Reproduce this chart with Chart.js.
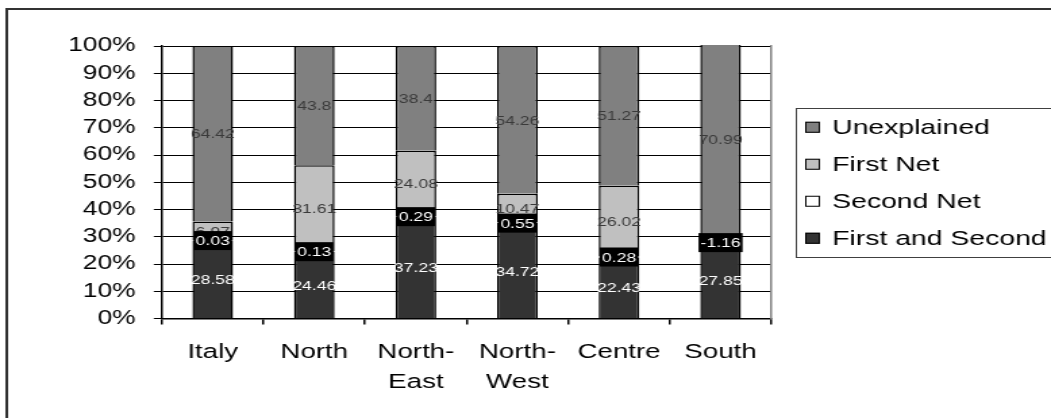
<!DOCTYPE html>
<html>
<head>
<meta charset="utf-8">
<script src="https://cdn.jsdelivr.net/npm/chart.js@4/dist/chart.umd.min.js"></script>
<style>
  html, body { margin: 0; padding: 0; background: #fff; }
  #chart { display: block; }
</style>
</head>
<body>
<!-- the original picture is stretched sideways, so the canvas is too -->
<canvas id="chart" width="778" height="418" style="width:1051px;height:418px"></canvas>
<script>
const regions = ['Italy', 'North', ['North-', 'East'], ['North-', 'West'], 'Centre', 'South'];
const firstAndSecond = [28.58, 24.46, 37.23, 34.72, 22.43, 27.85];
const secondNet = [0.03, 0.13, 0.29, 0.55, 0.28, -1.16];
const firstNet = [6.97, 31.61, 24.08, 10.47, 26.02, 2.32];
const unexplained = [64.42, 43.8, 38.4, 54.26, 51.27, 70.99];

const FONT = '"Liberation Sans", Arial, sans-serif';
Chart.defaults.font.family = FONT;
Chart.defaults.color = '#000';

// outer frame, and a boxed legend to the right of the plot
// (the built-in legend clips its text to the narrow box the layout gives it)
const framePlugin = {
  id: 'frame',
  beforeDraw(chart) {
    const ctx = chart.ctx;
    ctx.save();
    ctx.strokeStyle = '#333';
    ctx.lineWidth = 2;
    ctx.strokeRect(5, 9, chart.width + 20, chart.height + 20);
    ctx.restore();
  },
  afterDraw(chart) {
    const ctx = chart.ctx;
    const area = chart.chartArea;
    const items = chart.data.datasets.slice().reverse();
    const rowGap = 37;
    const midY = (area.top + area.bottom) / 2;
    const firstY = midY - rowGap * (items.length - 1) / 2;
    const x0 = area.right + 25;

    ctx.save();
    ctx.strokeStyle = '#404040';
    ctx.lineWidth = 1;
    const top = Math.round(firstY - 18.5) + 0.5;
    const bottom = Math.round(firstY + rowGap * (items.length - 1) + 19.5) + 0.5;
    ctx.strokeRect(Math.round(x0 - 7) + 0.5, top, chart.width, bottom - top);

    ctx.font = '21px ' + FONT;
    ctx.textBaseline = 'middle';
    ctx.textAlign = 'left';
    items.forEach((ds, k) => {
      const y = firstY + k * rowGap;
      ctx.fillStyle = ds.backgroundColor;
      ctx.fillRect(x0, y - 5, 11, 11);
      ctx.strokeStyle = '#000';
      ctx.strokeRect(x0 + 0.5, y - 4.5, 10, 10);
      ctx.fillStyle = '#000';
      ctx.fillText(ds.label, x0 + 20, y + 1);
    });
    ctx.restore();
  }
};

// value labels in the middle of each segment, Second Net drawn last on black
const labelPlugin = {
  id: 'segmentLabels',
  afterDatasetsDraw(chart) {
    const ctx = chart.ctx;
    ctx.save();
    ctx.font = '13px ' + FONT;
    ctx.textAlign = 'center';
    ctx.textBaseline = 'middle';
    [0, 2, 3, 1].forEach((di) => {
      const ds = chart.data.datasets[di];
      const meta = chart.getDatasetMeta(di);
      meta.data.forEach((bar, i) => {
        const v = ds.data[i];
        let y = (bar.y + bar.base) / 2;
        if (v < 0) y = chart.getDatasetMeta(0).data[i].y;
        const text = String(v);
        if (ds.labelBox) {
          const w = ctx.measureText(text).width + 3;
          ctx.fillStyle = ds.labelBox;
          ctx.fillRect(bar.x - w / 2, y - 9.5, w, 19);
        }
        ctx.fillStyle = ds.labelColor;
        ctx.fillText(text, bar.x, y + 1);
      });
    });
    ctx.restore();
  }
};

new Chart(document.getElementById('chart'), {
  type: 'bar',
  data: {
    labels: regions,
    datasets: [
      { label: 'First and Second', data: firstAndSecond, backgroundColor: '#333333', labelColor: '#fff' },
      { label: 'Second Net', data: secondNet, backgroundColor: '#ffffff', labelColor: '#fff', labelBox: '#000' },
      { label: 'First Net', data: firstNet, backgroundColor: '#c0c0c0', labelColor: '#3a3a3a' },
      { label: 'Unexplained', data: unexplained, backgroundColor: '#808080', labelColor: '#3a3a3a' }
    ]
  },
  options: {
    responsive: false,
    animation: false,
    devicePixelRatio: 1,
    layout: { padding: { left: 37, top: 46, right: 198, bottom: 8 } },
    datasets: {
      bar: {
        categoryPercentage: 0.8,
        barPercentage: 0.5,
        borderColor: '#000',
        borderWidth: 1.5,
        clip: { left: false, right: false, top: 1, bottom: 0 }
      }
    },
    scales: {
      x: {
        stacked: true,
        grid: { drawOnChartArea: false, drawTicks: true, tickLength: 6, color: '#000', lineWidth: 1.5 },
        border: { color: '#000', width: 1.5 },
        ticks: { color: '#000', padding: 12, font: { size: 20.5, lineHeight: 1.5 } }
      },
      y: {
        stacked: true,
        min: 0,
        max: 100,
        ticks: { stepSize: 10, padding: 13.5, color: '#000', font: { size: 19.5 }, callback: (v) => v + '%' },
        grid: { color: '#000', lineWidth: 1, tickLength: 6 },
        border: { color: '#000', width: 1.5 }
      },
      y2: {
        position: 'right',
        min: 0,
        max: 100,
        ticks: { display: false },
        grid: { drawOnChartArea: false, drawTicks: true, tickLength: 9, tickColor: 'rgba(0,0,0,0)' },
        border: { color: '#808080', width: 1.5 }
      }
    },
    plugins: {
      legend: { display: false },
      tooltip: { enabled: false }
    }
  },
  plugins: [framePlugin, labelPlugin]
});
</script>
</body>
</html>
